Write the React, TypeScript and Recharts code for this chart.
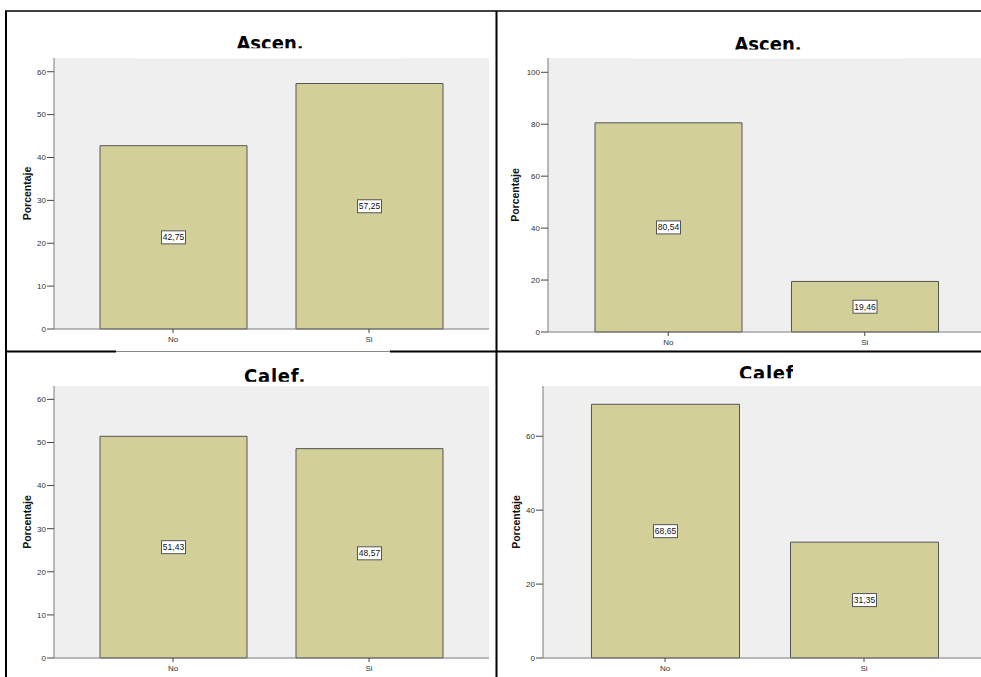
import { BarChart, Bar, XAxis, YAxis, CartesianGrid, LabelList } from 'recharts';

const categories = ['No', 'Si'];
const ascenLeft = [42.75, 57.25];
const ascenRight = [80.54, 19.46];
const calefLeft = [51.43, 48.57];
const calefRight = [68.65, 31.35];

const ticksBy10 = [0, 10, 20, 30, 40, 50, 60];
const ticksTo100 = [0, 20, 40, 60, 80, 100];
const ticksTo60 = [0, 20, 40, 60];

const toRows = (vals: number[]) => categories.map((cat, i) => ({ cat, value: vals[i] }));

const FONT = '"Liberation Sans", Arial, sans-serif';
const BAR_FILL = '#d3cf99';
const FRAME = '#7a7a7a';

const ValueBox = (props: any) => {
  const { x, y, width, height, value } = props;
  const cx = x + width / 2;
  const cy = y + height / 2;
  const txt = Number(value).toFixed(2).replace('.', ',');
  return (
    <g>
      <rect x={cx - 12} y={cy - 6.5} width={24} height={13} fill="#fff" stroke="#555" strokeWidth={1} />
      <text x={cx} y={cy + 3} textAnchor="middle" fontSize={8.5} fontFamily={FONT} fill="#111">
        {txt}
      </text>
    </g>
  );
};

type PanelProps = {
  values: number[];
  ticks: number[];
  max: number;
  left: number;
  top: number;
  width: number;
  height: number;
  marginTop: number;
  padL: number;
  padR: number;
  barSize: number;
  labelDx?: number;
};

function Panel(p: PanelProps) {
  const tickStyle = { fontSize: 8, fontFamily: FONT, fill: '#333' };
  return (
    <div style={{ position: 'absolute', left: p.left, top: p.top }}>
      <BarChart
        width={p.width}
        height={p.height}
        data={toRows(p.values)}
        margin={{ top: p.marginTop, right: 6, bottom: 0, left: 0 }}
        barSize={p.barSize}
      >
        <CartesianGrid fill="#efefef" horizontal={false} vertical={false} />
        <XAxis
          dataKey="cat"
          height={21}
          padding={{ left: p.padL, right: p.padR }}
          axisLine={{ stroke: FRAME }}
          tickLine={{ stroke: '#444' }}
          tickSize={4}
          tickMargin={3}
          tick={tickStyle}
        />
        <XAxis xAxisId="top" dataKey="cat" orientation="top" height={0} tick={false} tickLine={false} axisLine={{ stroke: FRAME }} />
        <YAxis
          type="number"
          width={54}
          domain={[0, p.max]}
          ticks={p.ticks}
          axisLine={{ stroke: FRAME }}
          tickLine={{ stroke: '#444' }}
          tickSize={7}
          tickMargin={1}
          tick={tickStyle}
          label={{
            value: 'Porcentaje',
            angle: -90,
            position: 'center',
            dx: p.labelDx ?? 0,
            style: { fontSize: 10.5, fontWeight: 'bold', fontFamily: FONT, fill: '#111' },
          }}
        />
        <YAxis yAxisId="right" orientation="right" width={0} tick={false} tickLine={false} axisLine={{ stroke: FRAME }} />
        <Bar dataKey="value" fill={BAR_FILL} stroke="#555" strokeWidth={1} isAnimationActive={false}>
          <LabelList dataKey="value" content={ValueBox} />
        </Bar>
      </BarChart>
    </div>
  );
}

const titleFont = {
  fontFamily: '"DejaVu Sans Condensed", "DejaVu Sans", sans-serif',
  fontWeight: 'bold' as const,
  fontSize: 20,
};

export default function App() {
  return (
    <div style={{ position: 'absolute', left: 0, top: 0, width: 981, height: 677, overflow: 'hidden', background: '#fff' }}>
      <Panel values={ascenLeft} ticks={ticksBy10} max={63.2} left={0} top={0} width={495} height={350} marginTop={58} padL={21} padR={22} barSize={147} />
      <Panel values={ascenRight} ticks={ticksTo100} max={105.5} left={494} top={0} width={495} height={353} marginTop={58} padL={22} padR={20} barSize={147} labelDx={-6} />
      <Panel values={calefLeft} ticks={ticksBy10} max={63.1} left={0} top={351} width={495} height={328} marginTop={35} padL={21} padR={22} barSize={147} />
      <Panel values={calefRight} ticks={ticksTo60} max={73.6} left={489} top={351} width={500} height={328} marginTop={35} padL={22.5} padR={19.5} barSize={148} />

      <svg width={981} height={677} style={{ position: 'absolute', left: 0, top: 0, pointerEvents: 'none' }}>
        <defs>
          <clipPath id="ctl"><rect x={130} y={20} width={280} height={28.3} /></clipPath>
          <clipPath id="ctr"><rect x={630} y={20} width={280} height={29.5} /></clipPath>
          <clipPath id="cbl"><rect x={130} y={355} width={280} height={26.7} /></clipPath>
          <clipPath id="cbr"><rect x={630} y={355} width={163} height={23.3} /></clipPath>
        </defs>
        {/* white boxes behind titles that cut the plot frame */}
        <rect x={136} y={48.3} width={269} height={10.2} fill="#fff" />
        <rect x={633} y={49.5} width={272} height={9} fill="#fff" />
        <text x={270} y={49.5} textAnchor="middle" clipPath="url(#ctl)" style={titleFont}>Ascen.</text>
        <text x={768} y={50.5} textAnchor="middle" clipPath="url(#ctr)" style={titleFont}>Ascen.</text>
        <text x={275} y={382.5} textAnchor="middle" letterSpacing={0.8} clipPath="url(#cbl)" style={titleFont}>Calef.</text>
        <text x={770} y={379.5} textAnchor="middle" letterSpacing={0.8} clipPath="url(#cbr)" style={titleFont}>Calef.</text>

        {/* panel frame lines */}
        <line x1={5} y1={11} x2={981} y2={11} stroke="#000" strokeWidth={1.5} />
        <line x1={6} y1={11} x2={6} y2={677} stroke="#000" strokeWidth={2} />
        <line x1={496.5} y1={11} x2={496.5} y2={677} stroke="#000" strokeWidth={2} />
        <line x1={5} y1={351.5} x2={116} y2={351.5} stroke="#000" strokeWidth={2} />
        <line x1={116} y1={351.5} x2={390} y2={351.5} stroke="#888" strokeWidth={1} />
        <line x1={390} y1={351.5} x2={981} y2={351.5} stroke="#000" strokeWidth={2} />
      </svg>
    </div>
  );
}
